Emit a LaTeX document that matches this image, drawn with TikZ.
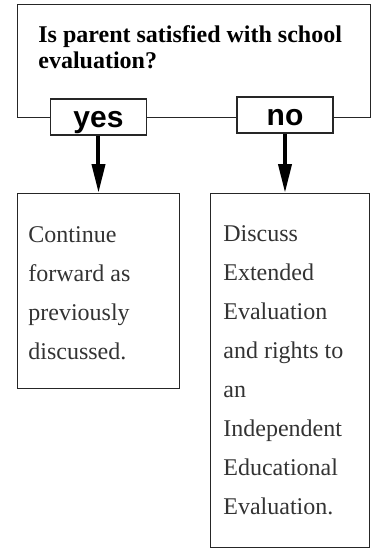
\documentclass[tikz,border=0pt]{standalone}
\usepackage{fontspec}
\setmainfont{Liberation Serif}
\newfontfamily\choicefont{Liberation Sans}
\usetikzlibrary{arrows.meta,calc}

\tikzset{
  frame/.style = {draw = black!85, line width = 0.7pt, inner sep = 0pt},
  choice/.style = {frame, fill = white, minimum width = 48pt,
    minimum height = 18pt, text height = 10pt, text depth = 0pt,
    font = \choicefont\bfseries\fontsize{15}{16}\selectfont},
  answer/.style = {frame, anchor = north west},
  bodytext/.style = {anchor = north west, inner sep = 0pt, align = left,
    text = black!80, font = \fontsize{12}{19.5}\selectfont},
  down/.style = {line width = 2pt, -{Triangle[length = 14.5pt, width = 6.5pt]}}
}

\begin{document}
\begin{tikzpicture}[x = 0.5pt, y = -0.5pt]
  \useasboundingbox (0, 0) rectangle (373, 548);

  % question frame
  \node[frame, anchor = north west, minimum width = 176.5pt,
  minimum height = 56.5pt] (question) at (17, 4) {};
  \node[anchor = north west, inner sep = 0pt, align = left,
  font = \bfseries\fontsize{12}{13}\selectfont] (qtext) at (38, 25)
  {Is parent satisfied with school\\evaluation?};

  % the two answers sit on the bottom edge
  \node[choice] (yes) at (98.5, 117) {yes};
  \node[choice] (no) at (285, 115) {no};

  % outcomes
  \node[answer, minimum width = 81pt, minimum height = 97.5pt] (cont) at (17, 193) {};
  \node[bodytext] (conttext) at ($(cont.north west) + (11, 33)$)
  {Continue\\forward as\\previously\\discussed.};

  \node[answer, minimum width = 79.5pt, minimum height = 177pt] (disc) at (210, 193) {};
  \node[bodytext] (disctext) at ($(disc.north west) + (13, 32)$)
  {Discuss\\Extended\\Evaluation\\and rights to\\an\\Independent\\Educational\\Evaluation.};

  \draw[down] (yes) -- (yes |- cont.north);
  \draw[down] (no) -- (no |- disc.north);

\end{tikzpicture}
\end{document}
